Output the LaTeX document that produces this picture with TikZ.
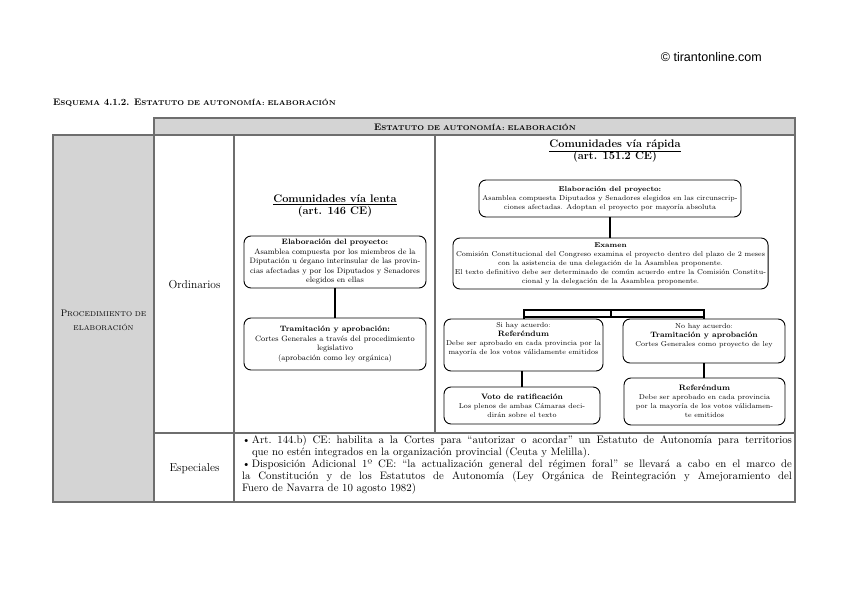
\documentclass[tikz,border=0pt]{standalone}
\usepackage{fontspec}
\newfontfamily\webfont{Liberation Sans}
\usepackage{xcolor}
\usepackage{tikz}
\usetikzlibrary{positioning, calc}
\definecolor{tirgray}{HTML}{D4D4D4}
\definecolor{tirline}{HTML}{6E6E6E}
\newcommand{\pcaps}[1]{{\fontsize{7}{8}\selectfont #1}}

\begin{document}
\begin{tikzpicture}[x=1pt, y=-1pt,
    cell/.style={draw=tirline, line width=1.1pt},
    caja/.style={draw, line width=0.9pt, rounded corners=7pt, align=center,
      inner xsep=2pt, inner ysep=2pt, font=\fontsize{7.8}{9.5}\selectfont},
    cajar/.style={caja, font=\fontsize{7.1}{9}\selectfont},
    enlace/.style={line width=2pt}]
  \useasboundingbox (0,0) rectangle (848,601);
  % Copyright and caption
  \node[font=\webfont\fontsize{12.5}{14}\selectfont, anchor=east, inner sep=0] (copy) at (762,57) {© tirantonline.com};
  \node[font=\bfseries\fontsize{9.5}{11}\selectfont, anchor=west, inner sep=0] (caption) at (53,103)
    {E\pcaps{SQUEMA} 4.1.2. E\pcaps{STATUTO DE AUTONOMÍA: ELABORACIÓN}};
  % Table cells
  \filldraw[cell, fill=tirgray] (154,118) rectangle (795,135);
  \filldraw[cell, fill=tirgray] (53,135) rectangle (154,502);
  \draw[cell] (154,135) rectangle (234,433);
  \draw[cell] (154,433) rectangle (234,502);
  \draw[cell] (234,135) rectangle (435,433);
  \draw[cell] (435,135) rectangle (795,433);
  \draw[cell] (234,433) rectangle (795,502);
  % Cell headings
  \node[font=\bfseries\fontsize{9.5}{11}\selectfont] (head) at (475,127)
    {E\pcaps{STATUTO DE AUTONOMÍA: ELABORACIÓN}};
  \node[font=\fontsize{9.5}{14}\selectfont, align=center] (proc) at (103.5,320)
    {P\pcaps{ROCEDIMIENTO DE}\\\pcaps{ELABORACIÓN}};
  \node[font=\fontsize{11.5}{13}\selectfont] (ordin) at (194.5,285) {Ordinarios};
  \node[font=\fontsize{11.5}{13}\selectfont] (espec) at (194.5,469) {Especiales};
  % Slow track
  \node[font=\bfseries\fontsize{11}{12.5}\selectfont, align=center] (lenta) at (335,206)
    {\underline{Comunidades vía lenta}\\(art. 146 CE)};
  \node[caja, minimum width=182pt, minimum height=52pt] (lentaA) at (335,262)
    {\textbf{Elaboración del proyecto:}\\Asamblea compuesta por los miembros de la\\Diputación u órgano interinsular de las provin-\\cias afectadas y por los Diputados y Senadores\\elegidos en ellas};
  \node[caja, minimum width=182pt, minimum height=52pt] (lentaB) at (335,344)
    {\textbf{Tramitación y aprobación:}\\Cortes Generales a través del procedimiento\\legislativo\\(aprobación como ley orgánica)};
  \draw[enlace] (lentaA) -- (lentaB);
  % Fast track
  \node[font=\bfseries\fontsize{11}{12.5}\selectfont, align=center] (rapida) at (615,151)
    {\underline{Comunidades vía rápida}\\(art. 151.2 CE)};
  \node[cajar, minimum width=262pt, minimum height=37pt] (rElab) at (610,198.5)
    {\textbf{Elaboración del proyecto:}\\Asamblea compuesta Diputados y Senadores elegidos en las circunscrip-\\ciones afectadas. Adoptan el proyecto por mayoría absoluta};
  \node[cajar, minimum width=315pt, minimum height=51pt] (examen) at (610.5,263.5)
    {\textbf{Examen}\\Comisión Constitucional del Congreso examina el proyecto dentro del plazo de 2 meses\\con la asistencia de una delegación de la Asamblea proponente.\\El texto definitivo debe ser determinado de común acuerdo entre la Comisión Constitu-\\cional y la delegación de la Asamblea proponente.};
  \node[cajar, minimum width=159pt, minimum height=52pt] (rSi) at (523.5,345)
    {Si hay acuerdo:\\\textbf{\fontsize{7.8}{9}\selectfont Referéndum}\\Debe ser aprobado en cada provincia por la\\mayoría de los votos válidamente emitidos\\[4pt]};
  \node[cajar, minimum width=162pt, minimum height=44pt] (rNo) at (704,341)
    {No hay acuerdo:\\\textbf{\fontsize{7.8}{9}\selectfont Tramitación y aprobación}\\Cortes Generales como proyecto de ley\\[2pt]};
  \node[cajar, minimum width=156pt, minimum height=37pt] (voto) at (522,405.5)
    {\textbf{\fontsize{7.8}{9}\selectfont Voto de ratificación}\\Los plenos de ambas Cámaras deci-\\dirán sobre el texto};
  \node[cajar, minimum width=161pt, minimum height=47pt] (ref) at (704.5,401.5)
    {\textbf{\fontsize{7.8}{9}\selectfont Referéndum}\\Debe ser aprobado en cada provincia\\por la mayoría de los votos válidamen-\\te emitidos};
  \draw[enlace] (rElab) -- (rElab.south |- examen.north);
  % Fork after the examination
  \draw[enlace] (rSi.north) -- ++(0,-9) -| (rNo.north);
  \draw[enlace] ([yshift=2pt]rSi.north) -- ([yshift=2pt]rNo.north);
  \draw[enlace] (examen.south |- rSi.north) ++(0,-2) -- ++(0,-7);
  \draw[enlace] (rSi.south -| voto.north) -- (voto.north);
  \draw[enlace] (rNo.south) -- (rNo.south |- ref.north);
  % Special procedures
  \node[text width=550pt, align=justify, inner sep=0, font=\fontsize{10.8}{12}\selectfont] (especial) at (517,464.5)
    {\frenchspacing\tolerance=9999\hangindent=10pt\hangafter=1\noindent\makebox[10pt][l]{\textbullet}Art. 144.b) CE: habilita a la Cortes para ``autorizar o acordar'' un Estatuto de Autonomía para territorios\linebreak que no estén integrados en la organización provincial (Ceuta y Melilla).\par
     \hangindent=10pt\hangafter=1\noindent\makebox[10pt][l]{\textbullet}Disposición Adicional 1º CE: ``la actualización general del régimen foral'' se llevará a cabo en el marco de\linebreak la Constitución y de los Estatutos de Autonomía (Ley Orgánica de Reintegración y Amejoramiento del\linebreak Fuero de Navarra de 10 agosto 1982)};
\end{tikzpicture}
\end{document}
